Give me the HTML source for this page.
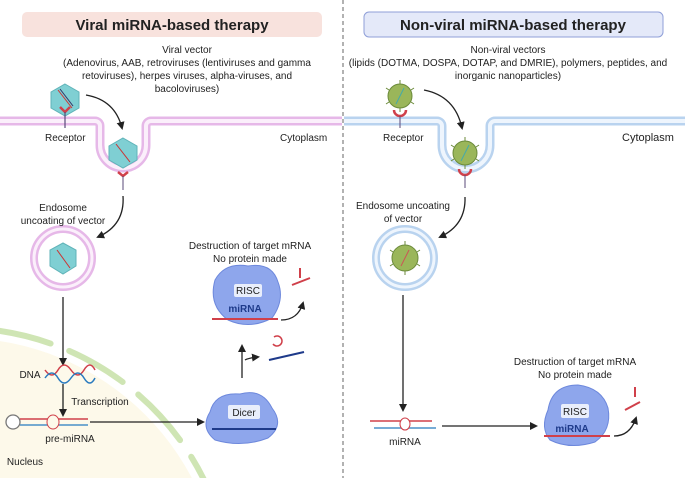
<!DOCTYPE html>
<html><head><meta charset="utf-8"><style>
html,body{margin:0;padding:0;background:#fff;width:685px;height:478px;overflow:hidden}
svg{display:block;font-family:"Liberation Sans",sans-serif}
</style></head><body>
<svg width="685" height="478" viewBox="0 0 685 478" xmlns="http://www.w3.org/2000/svg">
<defs>
<marker id="ah" markerWidth="8" markerHeight="8" refX="6" refY="4" orient="auto" markerUnits="userSpaceOnUse"><path d="M0,0 L8,4 L0,8 Z" fill="#222"/></marker>
<clipPath id="lc"><rect x="0" y="0" width="342" height="478"/></clipPath>
</defs>
<g clip-path="url(#lc)">
<circle cx="-40" cy="600" r="262" fill="#fdf9ea"/>
<circle cx="-40" cy="600" r="272" fill="none" stroke="#cfe5b4" stroke-width="6" stroke-linecap="round" stroke-dasharray="62 20"/>
</g>
<line x1="343" y1="0" x2="343" y2="478" stroke="#666" stroke-width="1" stroke-dasharray="4 3"/>
<rect x="22" y="12" width="300" height="25" rx="5" fill="#f8e2dd"/>
<text x="172" y="30" font-size="15" font-weight="bold" text-anchor="middle" fill="#222">Viral miRNA-based therapy</text>
<rect x="364" y="12" width="299" height="25" rx="5" fill="#e4e9f9" stroke="#8f9fd8" stroke-width="1"/>
<text x="513" y="30" font-size="15" font-weight="bold" text-anchor="middle" fill="#222">Non-viral miRNA-based therapy</text>
<g font-size="10" fill="#222" text-anchor="middle">
<text x="187" y="53">Viral vector</text>
<text x="187" y="66">(Adenovirus, AAB, retroviruses (lentiviruses and gamma</text>
<text x="187" y="79">retoviruses), herpes viruses, alpha-viruses, and</text>
<text x="187" y="92">bacoloviruses)</text>
<text x="508" y="53">Non-viral vectors</text>
<text x="508" y="66">(lipids (DOTMA, DOSPA, DOTAP, and DMRIE), polymers, peptides, and</text>
<text x="508" y="79">inorganic nanoparticles)</text>
</g>
<path d="M0,121 H95 A5,5 0 0 1 100,126 V145 A23,23 0 0 0 146,145 V126 A5,5 0 0 1 151,121 H342" fill="none" stroke="#e6b8e8" stroke-width="9"/>
<path d="M0,121 H95 A5,5 0 0 1 100,126 V145 A23,23 0 0 0 146,145 V126 A5,5 0 0 1 151,121 H342" fill="none" stroke="#fbeffb" stroke-width="4"/>
<path d="M344,121 H437 A5,5 0 0 1 442,126 V145 A24,24 0 0 0 490,145 V126 A5,5 0 0 1 495,121 H685" fill="none" stroke="#b9d3ef" stroke-width="9"/>
<path d="M344,121 H437 A5,5 0 0 1 442,126 V145 A24,24 0 0 0 490,145 V126 A5,5 0 0 1 495,121 H685" fill="none" stroke="#eef5fd" stroke-width="4"/>
<g font-size="10" fill="#222">
<text x="45" y="141">Receptor</text>
<text x="280" y="141">Cytoplasm</text>
<text x="383" y="141">Receptor</text>
<text x="622" y="141" font-size="11">Cytoplasm</text>
</g>
<polygon points="65,84 79,92 79,108 65,116 51,108 51,92" fill="#7fcfd3" stroke="#5fb3b8"/>
<line x1="58" y1="90" x2="72" y2="108" stroke="#c33" stroke-width="1"/><line x1="60" y1="89" x2="73" y2="106" stroke="#336" stroke-width="1"/>
<path d="M60,107 L65,112 L70,107" fill="none" stroke="#d0404a" stroke-width="2.5"/><line x1="65" y1="112" x2="65" y2="128" stroke="#5a4a7a" stroke-width="1.2"/>
<polygon points="123,138 137,146 137,160 123,168 109,160 109,146" fill="#7fcfd3" stroke="#5fb3b8"/>
<line x1="116" y1="144" x2="130" y2="162" stroke="#c33"/><path d="M118,172 L123,176 L128,172" fill="none" stroke="#d0404a" stroke-width="2.5"/><line x1="123" y1="176" x2="123" y2="190" stroke="#5a4a7a"/>
<circle cx="63" cy="258" r="29" fill="none" stroke="#e6b8e8" stroke-width="8"/><circle cx="63" cy="258" r="29" fill="none" stroke="#fbeffb" stroke-width="3"/>
<polygon points="63,243 76,250 76,266 63,274 50,266 50,250" fill="#7fcfd3" stroke="#5fb3b8"/>
<line x1="57" y1="250" x2="70" y2="268" stroke="#c33"/>
<g fill="#9ab65a" stroke="#6b8a3a">
<circle cx="400" cy="96" r="12"/><circle cx="465" cy="153" r="12"/><circle cx="405" cy="258" r="13"/>
</g>
<g stroke="#6b8a3a" stroke-width="1">
<path d="M400,80V84M400,108V112M386,88l3,2M414,88l-3,2M386,104l3,-2M414,104l-3,-2"/>
<path d="M465,137V141M465,165V169M451,145l3,2M479,145l-3,2M451,161l3,-2M479,161l-3,-2"/>
<path d="M405,241V245M405,271V275M390,250l3,2M420,250l-3,2M390,266l3,-2M420,266l-3,-2"/>
</g>
<line x1="396" y1="104" x2="404" y2="88" stroke="#4aa" /><line x1="461" y1="161" x2="469" y2="145" stroke="#4aa"/><line x1="401" y1="266" x2="409" y2="250" stroke="#c55"/>
<path d="M394,110 A6,6 0 0 0 406,110" fill="none" stroke="#d0404a" stroke-width="2.5"/><line x1="400" y1="116" x2="400" y2="128" stroke="#5a4a7a"/>
<path d="M459,169 A6,6 0 0 0 471,169" fill="none" stroke="#d0404a" stroke-width="2.5"/><line x1="465" y1="175" x2="465" y2="188" stroke="#5a4a7a"/>
<circle cx="405" cy="258" r="29" fill="none" stroke="#b9d3ef" stroke-width="8"/><circle cx="405" cy="258" r="29" fill="none" stroke="#eef5fd" stroke-width="3"/>
<g fill="none" stroke="#222" stroke-width="1.3" marker-end="url(#ah)">
<path d="M86,95 Q115,100 122,128"/>
<path d="M123,196 Q125,225 98,237"/>
<path d="M424,90 Q455,96 462,128"/>
<path d="M465,197 Q466,225 440,237"/>
<path d="M63,297 V364"/>
<path d="M63,384 V415"/>
<path d="M90,422 H203"/>
<path d="M242,378 V346"/>
<path d="M403,295 V410"/>
<path d="M442,426 H536"/>
<path d="M281,320 Q298,320 303,303"/>
<path d="M614,436 Q630,436 636,418"/>
<path d="M245,360 Q248,358 258,357"/>
</g>
<g font-size="10" fill="#222" text-anchor="middle">
<text x="63" y="211">Endosome</text><text x="63" y="224">uncoating of vector</text>
<text x="403" y="209">Endosome uncoating</text><text x="403" y="222">of vector</text>
<text x="250" y="249">Destruction of target mRNA</text><text x="250" y="262">No protein made</text>
<text x="575" y="365">Destruction of target mRNA</text><text x="575" y="378">No protein made</text>
<text x="30" y="378">DNA</text>
<text x="100" y="405">Transcription</text>
<text x="70" y="442">pre-miRNA</text>
<text x="25" y="465">Nucleus</text>
<text x="405" y="445">miRNA</text>
</g>
<path d="M45,370 Q52,380 58,370 T71,370 T84,370 T95,370" fill="none" stroke="#d0404a" stroke-width="1.5"/>
<path d="M45,378 Q52,368 58,378 T71,378 T84,378 T95,378" fill="none" stroke="#2b7bbf" stroke-width="1.5"/>
<circle cx="13" cy="422" r="7" fill="#fff" stroke="#777" stroke-width="1.3"/>
<line x1="20" y1="419" x2="88" y2="419" stroke="#d0404a" stroke-width="1.5"/><line x1="20" y1="425" x2="88" y2="425" stroke="#4a90c8" stroke-width="1.5"/>
<ellipse cx="53" cy="422" rx="6" ry="7" fill="#fdf9ea" stroke="#d0404a"/>
<line x1="370" y1="421" x2="432" y2="421" stroke="#d0404a" stroke-width="1.5"/><line x1="374" y1="428" x2="436" y2="428" stroke="#4a90c8" stroke-width="1.5"/>
<ellipse cx="405" cy="424" rx="5" ry="6" fill="#fff" stroke="#d0404a"/>
<g fill="#8ea6ec" stroke="#6d88dc">
<path d="M215,280 Q225,262 248,266 Q272,262 278,282 Q285,300 272,318 Q250,330 228,320 Q208,305 215,280Z"/>
<path d="M210,412 Q215,392 240,394 Q262,388 272,408 Q285,425 268,438 Q242,448 215,440 Q200,428 210,412Z"/>
<path d="M548,410 Q552,385 578,385 Q602,388 608,408 Q612,430 595,442 Q570,450 550,440 Q540,428 548,410Z"/>
</g>
<g fill="#e9eefb">
<rect x="234" y="284" width="28" height="13" rx="2"/><rect x="228" y="405" width="32" height="14" rx="2"/><rect x="561" y="404" width="28" height="14" rx="2"/>
</g>
<g font-size="10" fill="#222" text-anchor="middle">
<text x="248" y="294">RISC</text><text x="244" y="416">Dicer</text><text x="575" y="415">RISC</text>
</g>
<g font-size="10" font-weight="bold" fill="#1e3a8a" text-anchor="middle">
<text x="245" y="312">miRNA</text><text x="572" y="432">miRNA</text>
</g>
<line x1="212" y1="319" x2="278" y2="319" stroke="#d0404a" stroke-width="2"/>
<line x1="544" y1="436" x2="610" y2="436" stroke="#d0404a" stroke-width="2"/>
<line x1="212" y1="429" x2="276" y2="429" stroke="#1e3a8a" stroke-width="2"/>
<line x1="269" y1="360" x2="304" y2="352" stroke="#1e3a8a" stroke-width="2"/>
<path d="M273,344 A5,5 0 1 0 274,337" fill="none" stroke="#d0404a" stroke-width="1.5"/>
<path d="M292,285 L310,278 M300,268 V278" stroke="#d0404a" stroke-width="2"/>
<path d="M625,410 L640,402 M635,387 V397" stroke="#d0404a" stroke-width="2"/>
</svg>
</body></html>
